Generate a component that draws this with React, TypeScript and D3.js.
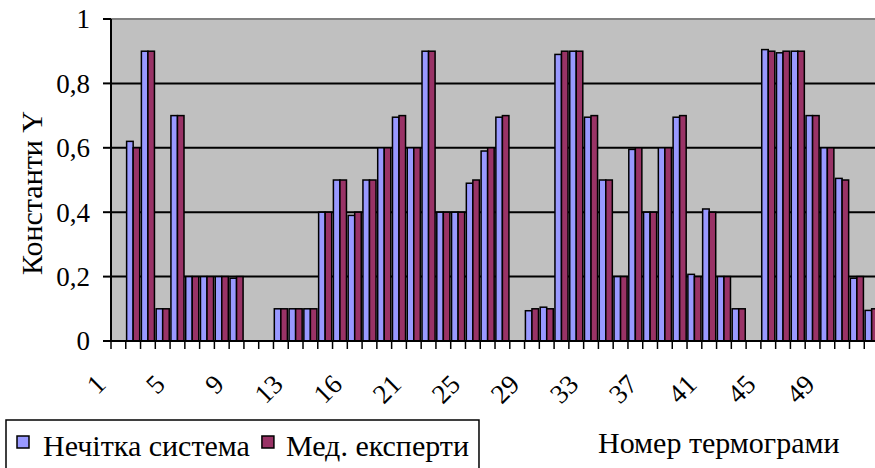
import React, { useLayoutEffect, useRef, useState } from "react";
import * as d3 from "d3";

const categories = [1,2,3,4,5,6,7,8,9,10,11,12,13,14,15,16,17,18,19,20,21,22,23,24,25,26,27,28,29,30,31,32,33,34,35,36,37,38,39,40,41,42,43,44,45,46,47,48,49,50,51,52];
const fuzzySystem: (number | null)[] = [null,0.62,0.9,0.1,0.7,0.2,0.2,0.2,0.195,null,null,0.1,0.1,0.1,0.4,0.5,0.39,0.5,0.6,0.695,0.6,0.9,0.4,0.4,0.49,0.59,0.695,null,0.094,0.105,0.89,0.9,0.695,0.5,0.2,0.595,0.4,0.6,0.695,0.207,0.41,0.2,0.1,null,0.905,0.895,0.9,0.7,0.6,0.505,0.195,0.095];
const medExperts: (number | null)[] = [null,0.6,0.9,0.1,0.7,0.2,0.2,0.2,0.2,null,null,0.1,0.1,0.1,0.4,0.5,0.4,0.5,0.6,0.7,0.6,0.9,0.4,0.4,0.5,0.6,0.7,null,0.1,0.1,0.9,0.9,0.7,0.5,0.2,0.6,0.4,0.6,0.7,0.2,0.4,0.2,0.1,null,0.9,0.9,0.9,0.7,0.6,0.5,0.2,0.1];
const seriesNames = ["Нечітка система", "Мед. експерти"];
const seriesColors = ["#9999FF", "#993366"];
const yTicks = [0, 0.2, 0.4, 0.6, 0.8, 1];
const yTickLabels = ["0", "0,2", "0,4", "0,6", "0,8", "1"];
const xTickCategories = [1, 5, 9, 13, 17, 21, 25, 29, 33, 37, 41, 45, 49];
const xTickLabels = ["1", "5", "9", "13", "16", "21", "25", "29", "33", "37", "41", "45", "49"];
const yTitle = "Константи Y";
const xTitle = "Номер термограми";

const W = 875, H = 468;
const FONT = "Liberation Serif";

const left = 111, top = 19, bottom = 341, step = 14.77;
const right = left + categories.length * step;
const x = d3.scaleBand<number>().domain(categories).range([left, right]).padding(0);
const xs = d3.scaleBand<number>().domain([0, 1]).range([0, x.bandwidth()]).paddingInner(0).paddingOuter(0.13);
const y = d3.scaleLinear().domain([0, 1]).range([bottom, top]);

const LEG_FS = 30;

export default function App() {
  const series = [fuzzySystem, medExperts];
  const t0 = useRef<SVGTextElement>(null);
  const t1 = useRef<SVGTextElement>(null);
  const [widths, setWidths] = useState<[number, number]>([200, 185]);
  useLayoutEffect(() => {
    const a = t0.current ? t0.current.getComputedTextLength() : 200;
    const b = t1.current ? t1.current.getComputedTextLength() : 185;
    if (Math.abs(a - widths[0]) > 0.5 || Math.abs(b - widths[1]) > 0.5) setWidths([a, b]);
  });
  const sw0 = 17, tx0 = sw0 + 26;
  const sw1 = tx0 + widths[0] + 12, tx1 = sw1 + 24;
  const boxRight = tx1 + widths[1] + 10;
  const legend = [{ sw: sw0, tx: tx0 }, { sw: sw1, tx: tx1 }];
  return (
    <svg width={W} height={H} style={{ position: "absolute", left: 0, top: 0, background: "#fff" }}>
      <rect x={left} y={top} width={right - left} height={bottom - top} fill="#C0C0C0" />
      {yTicks.filter(t => t > 0 && t < 1).map(t => (
        <line key={t} x1={left} x2={right} y1={y(t)} y2={y(t)} stroke="#000" strokeWidth={2} />
      ))}
      <line x1={left} x2={right} y1={y(1)} y2={y(1)} stroke="#808080" strokeWidth={2} />
      {series.map((vals, si) => (
        <g key={si}>
          {categories.map((c, i) => vals[i] === null ? null : (
            <rect key={c}
              x={(x(c) as number) + (xs(si) as number)}
              y={y(vals[i] as number)}
              width={xs.bandwidth()}
              height={bottom - y(vals[i] as number)}
              fill={seriesColors[si]} stroke="#000" strokeWidth={1.5} />
          ))}
        </g>
      ))}
      <line x1={left} x2={left} y1={top} y2={bottom} stroke="#000" strokeWidth={2} />
      <line x1={left - 8} x2={right} y1={bottom} y2={bottom} stroke="#000" strokeWidth={2} />
      {yTicks.map(t => (
        <line key={t} x1={left - 8} x2={left} y1={y(t)} y2={y(t)} stroke="#000" strokeWidth={2} />
      ))}
      {d3.range(categories.length + 1).map(i => (
        <line key={i} x1={left + i * x.step()} x2={left + i * x.step()} y1={bottom} y2={bottom + 8} stroke="#000" strokeWidth={1.5} />
      ))}
      {yTicks.map((t, i) => (
        <text key={t} x={left - 21} y={y(t)} dy="0.35em" textAnchor="end" fontSize={27} style={{ fontFamily: FONT }}>{yTickLabels[i]}</text>
      ))}
      {xTickCategories.map((c, i) => (
        <text key={c} transform={`translate(${(x(c) as number) + x.bandwidth() / 2 - 11},${bottom + 45}) rotate(-45)`}
          textAnchor="end" fontSize={27} style={{ fontFamily: FONT }}>{xTickLabels[i]}</text>
      ))}
      <text transform={`translate(42,193) rotate(-90)`} textAnchor="middle" fontSize={30} style={{ fontFamily: FONT }}>{yTitle}</text>
      <text x={598} y={453} fontSize={30} style={{ fontFamily: FONT }}>{xTitle}</text>
      <rect x={6} y={420} width={boxRight - 6} height={60} fill="#fff" stroke="#000" strokeWidth={1.5} />
      {seriesNames.map((name, i) => (
        <g key={name}>
          <rect x={legend[i].sw} y={436} width={12} height={12} fill={seriesColors[i]} stroke="#000" strokeWidth={1.5} />
          <text ref={i === 0 ? t0 : t1} x={legend[i].tx} y={456} fontSize={LEG_FS} style={{ fontFamily: FONT }}>{name}</text>
        </g>
      ))}
    </svg>
  );
}
